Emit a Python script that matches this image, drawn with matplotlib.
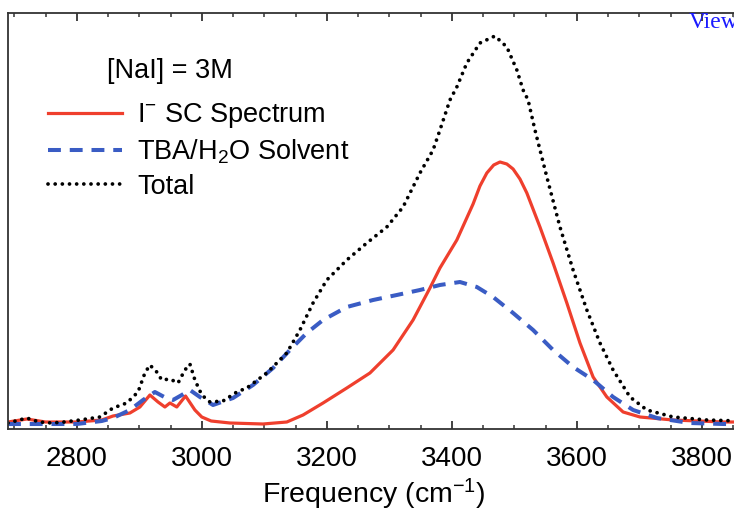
import matplotlib
matplotlib.use("Agg")
import matplotlib.pyplot as plt
from matplotlib.ticker import MultipleLocator

plt.rcParams['font.family'] = ['Liberation Sans', 'DejaVu Sans']
plt.rcParams['mathtext.fontset'] = 'custom'
plt.rcParams['mathtext.rm'] = 'Liberation Sans'
plt.rcParams['mathtext.it'] = 'Liberation Sans:italic'

# I- SC spectrum (red)
sc_freq = [2690, 2720, 2750, 2800, 2840, 2858, 2885, 2901, 2917, 2930, 2941, 2949,
           2960, 2974, 2989, 3000, 3015, 3045, 3098, 3136, 3162, 3194, 3232, 3269,
           3306, 3338, 3365, 3381, 3408, 3434, 3445, 3456, 3467, 3477, 3488, 3498, 3509,
           3520, 3541, 3562, 3584, 3605, 3626, 3648, 3674, 3701, 3754, 3834, 3860]
sc_int = [7, 10, 7, 7, 9, 13, 16, 22, 34, 27, 22, 26,
          22, 33, 19, 12, 8, 6, 5, 7, 14, 26, 41, 56,
          79, 109, 141, 161, 189, 225, 243, 256, 264, 267, 265, 260, 250,
          236, 202, 166, 126, 86, 52, 32, 17, 12, 9, 7, 7]

# TBA/H2O solvent (blue dashed)
solv_freq = [2690, 2750, 2800, 2840, 2858, 2885, 2906, 2925, 2940, 2954, 2968, 2981,
             2997, 3018, 3050, 3082, 3114, 3141, 3168, 3194, 3232, 3274, 3312, 3349,
             3381, 3413, 3440, 3466, 3498, 3530, 3562, 3594, 3626, 3658, 3690, 3728,
             3781, 3834, 3860]
solv_int = [5, 5, 5, 8, 11, 19, 29, 37, 32, 29, 34, 39,
            32, 24, 31, 44, 61, 79, 96, 109, 122, 129, 134, 139,
            144, 147, 142, 132, 116, 99, 79, 62, 49, 32, 19, 11,
            6, 5, 5]

# total (black dotted)
tot_freq = [2690, 2720, 2740, 2760, 2780, 2805, 2837, 2858, 2880, 2898, 2909, 2917,
            2928, 2936, 2949, 2962, 2973, 2981, 2989, 3000, 3013, 3034, 3056, 3072,
            3104, 3136, 3157, 3178, 3200, 3232, 3264, 3296, 3322, 3349, 3370, 3381,
            3397, 3408, 3424, 3445, 3469, 3488, 3504, 3514, 3522, 3533, 3552, 3573,
            3594, 3616, 3637, 3658, 3685, 3712, 3754, 3808, 3860]
tot_int = [6, 11, 7, 6, 7, 9, 12, 21, 26, 37, 56, 64,
           57, 49, 50, 46, 59, 65, 49, 34, 27, 28, 37, 41,
           56, 76, 99, 126, 149, 169, 186, 202, 222, 256, 279, 299,
           329, 342, 366, 386, 393, 382, 359, 339, 329, 299, 252, 202,
           159, 119, 86, 59, 32, 19, 12, 9, 8]

fig = plt.figure(figsize=(7.34, 5.12), dpi=100)
ax = fig.add_axes([8 / 734, 83 / 512, 732 / 734, 416 / 512])

red = '#ef3f2d'
blue = '#3a5cc4'
l1, = ax.plot(sc_freq, sc_int, color=red, lw=2.3, label=r'I$^{-}$ SC Spectrum')
l2, = ax.plot(solv_freq, solv_int, color=blue, lw=2.9, dashes=(3.2, 2.2),
              label=r'TBA/H$_{2}$O Solvent')
l3, = ax.plot(tot_freq, tot_int, color='black', lw=2.7, linestyle=(0, (0.01, 1.9)),
              dash_capstyle='round', label='Total')

ax.set_xlim(2690, 3861)
ax.set_ylim(0, 416)
ax.xaxis.set_major_locator(MultipleLocator(200))
ax.xaxis.set_minor_locator(MultipleLocator(50))
ax.set_yticks([])
ax.tick_params(axis='x', which='major', direction='in', top=True, length=6,
               width=1.3, labelsize=20, pad=12, color='#333333')
ax.tick_params(axis='x', which='minor', direction='in', top=True, length=3,
               width=1.1, color='#333333')
for s in ax.spines.values():
    s.set_linewidth(1.3)
    s.set_color('#333333')

ax.set_xlabel('Frequency (cm$^{-1}$)', fontsize=20.5, labelpad=4)

fig.text(107 / 734, 1 - 71 / 512, '[NaI] = 3M', fontsize=19.5, va='center')
fig.legend(handles=[l1, l2, l3], loc='upper left', bbox_to_anchor=(48 / 734, 1 - 101 / 512),
           frameon=False, fontsize=19.5, borderpad=0, borderaxespad=0,
           handlelength=2.75, handletextpad=0.55, labelspacing=0.28)

fig.text(689 / 734, 1 - 28 / 512, 'View', color='#1a1aff', fontsize=17,
         family='Liberation Serif')

fig.savefig('out.png', dpi=100)
